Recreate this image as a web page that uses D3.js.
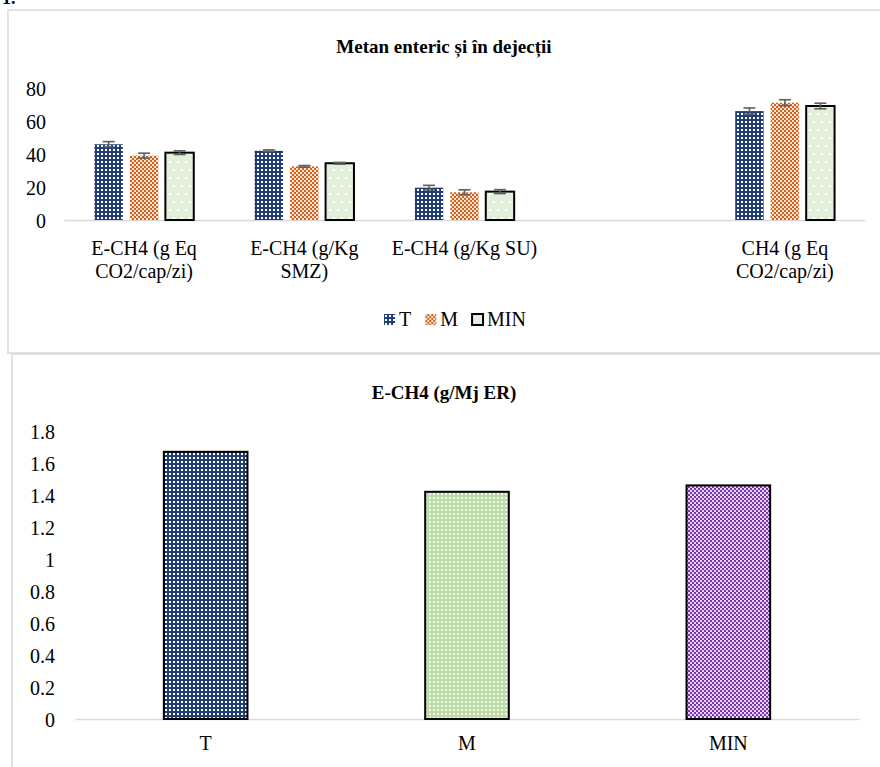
<!DOCTYPE html>
<html>
<head>
<meta charset="utf-8">
<script src="https://cdn.jsdelivr.net/npm/d3@7"></script>
<style>
  html, body { margin: 0; padding: 0; background: #fff; }
  svg { display: block; }
  svg text { font-family: "Liberation Serif", "Times New Roman", Tinos, "DejaVu Serif", serif !important; fill: #000; }
</style>
</head>
<body>
<svg id="chart" width="880" height="767" font-family="Liberation Serif, Times New Roman, serif"></svg>
<script>
// ---- Chart 1: Metan enteric și în dejecții ----
const categories1 = [
  ["E-CH4 (g Eq", "CO2/cap/zi)"],
  ["E-CH4 (g/Kg", "SMZ)"],
  ["E-CH4 (g/Kg SU)"],
  [""],
  ["CH4 (g Eq", "CO2/cap/zi)"]
];
const seriesNames = ["T", "M", "MIN"];
const valuesT   = [45.9, 42.0, 19.6, null, 66.0];
const valuesM   = [39.0, 32.5, 16.8, null, 71.1];
const valuesMIN = [40.8, 34.4, 17.2, null, 69.1];
const errT   = [1.6, 0.5, 1.4, null, 1.9];
const errM   = [1.5, 0.5, 1.5, null, 1.8];
const errMIN = [1.1, 0.5, 1.2, null, 1.7];
const ticks1 = [0, 20, 40, 60, 80];

// ---- Chart 2: E-CH4 (g/Mj ER) ----
const categories2 = ["T", "M", "MIN"];
const values2 = [1.67, 1.42, 1.46];
const ticks2 = [0, 0.2, 0.4, 0.6, 0.8, 1, 1.2, 1.4, 1.6, 1.8];

const FONT = "Liberation Serif, Times New Roman, serif";
const svg = d3.select("#chart");
const defs = svg.append("defs");

// Fill patterns
function dotPattern(id, bg, fg, size, dot, offsetRows) {
  const h = offsetRows ? size * 2 : size;
  const p = defs.append("pattern").attr("id", id)
    .attr("patternUnits", "userSpaceOnUse")
    .attr("width", size).attr("height", h);
  p.append("rect").attr("width", size).attr("height", h).attr("fill", bg);
  p.append("rect").attr("x", 1).attr("y", 1).attr("width", dot).attr("height", dot).attr("fill", fg);
  if (offsetRows) {
    p.append("rect").attr("x", 1 + size / 2).attr("y", 1 + size).attr("width", dot).attr("height", dot).attr("fill", fg);
  }
}
function checkPattern(id, bg, fg, cell) {
  const p = defs.append("pattern").attr("id", id)
    .attr("patternUnits", "userSpaceOnUse")
    .attr("width", cell * 2).attr("height", cell * 2);
  p.append("rect").attr("width", cell * 2).attr("height", cell * 2).attr("fill", bg);
  p.append("rect").attr("width", cell).attr("height", cell).attr("fill", fg);
  p.append("rect").attr("x", cell).attr("y", cell).attr("width", cell).attr("height", cell).attr("fill", fg);
}
dotPattern("patT", "#203d74", "#ffffff", 4, 2, false);
checkPattern("patM", "#cf6420", "#fbe3d2", 2);
dotPattern("patMIN", "#e2efda", "#ffffff", 8, 2, true);
dotPattern("patM2", "#bcdba6", "#eef7e8", 4, 2, false);
checkPattern("patMIN2", "#7a35ab", "#e6d6f1", 2);

const fills1 = ["url(#patT)", "url(#patM)", "url(#patMIN)"];
const strokes1 = ["none", "none", "#000"];
const fills2 = ["url(#patT)", "url(#patM2)", "url(#patMIN2)"];

// Frames
svg.append("text").attr("x", 2).attr("y", 4).attr("font-size", 18).attr("font-weight", "bold").text("1.");
svg.append("rect").attr("x", 8).attr("y", 10).attr("width", 890).attr("height", 343)
  .attr("fill", "none").attr("stroke", "#d9d9d9").attr("stroke-width", 1.5);
svg.append("rect").attr("x", 12).attr("y", 354).attr("width", 890).attr("height", 430)
  .attr("fill", "#fff").attr("stroke", "#d9d9d9").attr("stroke-width", 1.5);

// ================= Chart 1 =================
const g1 = svg.append("g");
const x1 = d3.scaleBand().domain(d3.range(categories1.length)).range([64, 865]).padding(0);
const y1 = d3.scaleLinear().domain([0, 80]).range([220, 88]);

g1.append("text").attr("x", 444).attr("y", 53).attr("text-anchor", "middle")
  .attr("font-size", 19).attr("font-weight", "bold").text("Metan enteric și în dejecții");

// y tick labels
const ya1 = g1.append("g").attr("transform", "translate(46,0)")
  .call(d3.axisLeft(y1).tickValues(ticks1).tickSize(0).tickPadding(0));
ya1.attr("font-family", FONT);
ya1.select(".domain").remove();
ya1.selectAll("text").attr("font-size", 20).attr("fill", "#000").attr("dy", "0.35em");

// x axis line
const xa1 = g1.append("g").attr("transform", "translate(0,220)")
  .call(d3.axisBottom(x1).tickSize(0).tickFormat(""));
xa1.select(".domain").attr("stroke", "#d9d9d9").attr("stroke-width", 1.5);

const seriesVals = [valuesT, valuesM, valuesMIN];
const seriesErr = [errT, errM, errMIN];
const inner1 = d3.scaleBand().domain(d3.range(3)).range([0, x1.bandwidth() * 0.62]).paddingInner(0.2);
const groupOffset = (x1.bandwidth() - x1.bandwidth() * 0.62) / 2;
const barW1 = inner1.bandwidth();

seriesVals.forEach((vals, s) => {
  const data = vals.map((v, i) => ({ i, v, e: seriesErr[s][i] })).filter(d => d.v != null);
  g1.append("g").selectAll("rect").data(data).join("rect")
    .attr("x", d => x1(d.i) + groupOffset + inner1(s))
    .attr("y", d => y1(d.v))
    .attr("width", barW1)
    .attr("height", d => y1(0) - y1(d.v))
    .attr("fill", fills1[s])
    .attr("stroke", strokes1[s])
    .attr("stroke-width", 2);
  const eb = g1.append("g").attr("stroke", "#5f5f5f").attr("stroke-width", 1.6);
  data.forEach(d => {
    const cx = x1(d.i) + groupOffset + inner1(s) + barW1 / 2;
    eb.append("line").attr("x1", cx).attr("x2", cx).attr("y1", y1(d.v + d.e)).attr("y2", y1(d.v - d.e));
    eb.append("line").attr("x1", cx - 6).attr("x2", cx + 6).attr("y1", y1(d.v + d.e)).attr("y2", y1(d.v + d.e));
    eb.append("line").attr("x1", cx - 6).attr("x2", cx + 6).attr("y1", y1(d.v - d.e)).attr("y2", y1(d.v - d.e));
  });
});

// category labels
categories1.forEach((lines, i) => {
  const cx = x1(i) + x1.bandwidth() / 2;
  const t = g1.append("text").attr("x", cx).attr("y", 255)
    .attr("text-anchor", "middle").attr("font-size", 20);
  lines.forEach((ln, k) => t.append("tspan").attr("x", cx).attr("dy", k === 0 ? 0 : 23).text(ln));
});

// legend
const legend = g1.append("g");
let lx = 0;
const legendFills = ["url(#patT)", "url(#patM)", "#e2efda"];
seriesNames.forEach((name, s) => {
  const it = legend.append("g").attr("transform", `translate(${lx},0)`);
  it.append("rect").attr("x", 0).attr("y", -12).attr("width", 11).attr("height", 11)
    .attr("fill", legendFills[s]).attr("stroke", s === 2 ? "#000" : "none").attr("stroke-width", 2);
  const tx = it.append("text").attr("x", 15).attr("y", 0).attr("font-size", 20).text(name);
  lx += 15 + tx.node().getComputedTextLength() + 14;
});
const legW = lx - 14;
legend.attr("transform", `translate(${455 - legW / 2},326)`);

// ================= Chart 2 =================
const g2 = svg.append("g");
const x2 = d3.scaleBand().domain(categories2).range([75, 859]).paddingInner(0.68).paddingOuter(0.34);
const y2 = d3.scaleLinear().domain([0, 1.8]).range([719, 431]);

g2.append("text").attr("x", 444).attr("y", 399).attr("text-anchor", "middle")
  .attr("font-size", 19).attr("font-weight", "bold").text("E-CH4 (g/Mj ER)");

const ya2 = g2.append("g").attr("transform", "translate(55,0)")
  .call(d3.axisLeft(y2).tickValues(ticks2).tickSize(0).tickPadding(0).tickFormat(d3.format("~g")));
ya2.attr("font-family", FONT);
ya2.select(".domain").remove();
ya2.selectAll("text").attr("font-size", 20).attr("fill", "#000").attr("dy", "0.35em");

const xa2 = g2.append("g").attr("transform", "translate(0,719)")
  .call(d3.axisBottom(x2).tickSize(0).tickPadding(17));
xa2.attr("font-family", FONT);
xa2.select(".domain").attr("stroke", "#d9d9d9").attr("stroke-width", 1.5);
xa2.selectAll("text").attr("font-size", 20).attr("fill", "#000");

g2.append("g").selectAll("rect").data(categories2.map((c, i) => ({ c, v: values2[i], i }))).join("rect")
  .attr("x", d => x2(d.c))
  .attr("y", d => y2(d.v))
  .attr("width", x2.bandwidth())
  .attr("height", d => y2(0) - y2(d.v))
  .attr("fill", d => fills2[d.i])
  .attr("stroke", "#000")
  .attr("stroke-width", 2);
</script>
</body>
</html>
